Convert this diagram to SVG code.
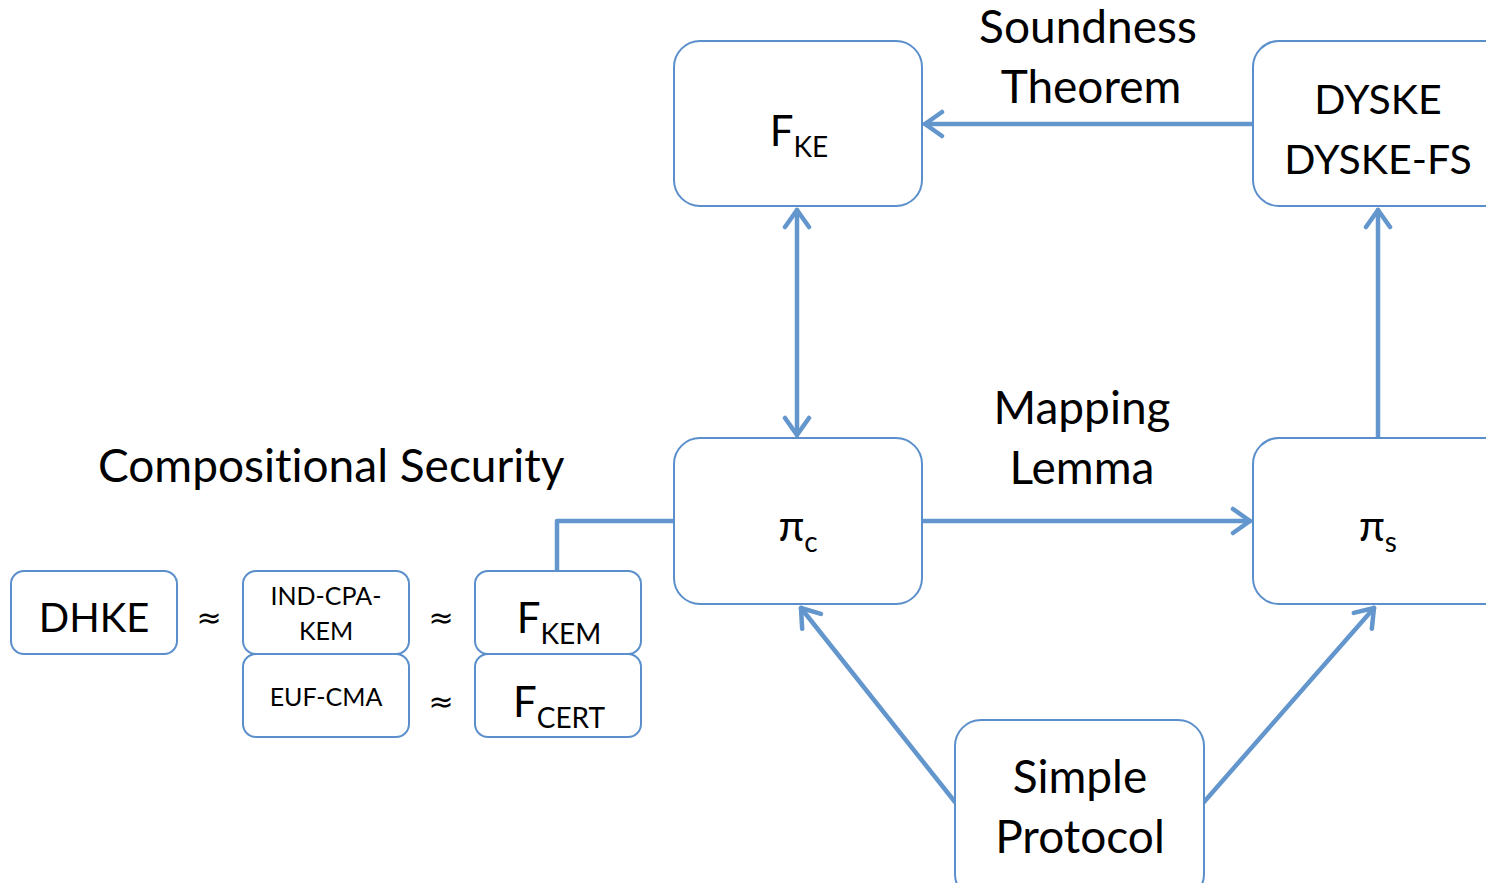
<svg xmlns="http://www.w3.org/2000/svg" width="1486" height="883" viewBox="0 0 1486 883">
<style>
.box{fill:#fff;stroke:#5b8fcb;stroke-width:2}
.t{font-family:Lato,"Liberation Sans",sans-serif;fill:#000;font-variant-ligatures:none;font-feature-settings:"liga" 0,"clig" 0,"dlig" 0,"calt" 0}
.big{font-size:42px}
.lbl{font-size:46px}
.sm{font-size:25px}
.ap{font-family:"DejaVu Sans",sans-serif;font-size:30px;fill:#000}
.con{fill:none;stroke:#6396cc;stroke-width:4.5;stroke-linecap:round;stroke-linejoin:round}
</style>
<defs>
<marker id="ah" markerUnits="userSpaceOnUse" markerWidth="40" markerHeight="40" viewBox="-20 -20 40 40" refX="0" refY="0" orient="auto-start-reverse">
<path d="M-17,-12 L0,0 L-17,12" fill="none" stroke="#6396cc" stroke-width="4.5" stroke-linecap="round" stroke-linejoin="round"/>
</marker>
</defs>
<rect width="1486" height="883" fill="#fff"/>
<g id="connectors">
<line class="con" x1="1253" y1="124" x2="925" y2="124" marker-end="url(#ah)"/>
<line class="con" x1="797" y1="210" x2="797" y2="435" marker-start="url(#ah)" marker-end="url(#ah)"/>
<line class="con" x1="922" y1="521" x2="1250" y2="521" marker-end="url(#ah)"/>
<line class="con" x1="1378" y1="438" x2="1378" y2="210" marker-end="url(#ah)"/>
<line class="con" x1="955" y1="802" x2="801" y2="608" marker-end="url(#ah)"/>
<line class="con" x1="1204" y1="802" x2="1374" y2="608" marker-end="url(#ah)"/>
<polyline class="con" points="557,571 557,521 674,521" style="stroke-linecap:butt"/>
</g>
<g id="label-soundness">
<text class="t lbl" x="1088" y="43" text-anchor="middle">Soundness</text>
<text class="t lbl" x="1091" y="103" text-anchor="middle">Theorem</text>
</g>
<g id="label-mapping">
<text class="t lbl" x="1082" y="424" text-anchor="middle">Mapping</text>
<text class="t lbl" x="1082" y="484" text-anchor="middle">Lemma</text>
</g>
<g id="label-compositional">
<text class="t lbl" x="98" y="482">Compositional Security</text>
</g>
<g id="node-fke">
<rect class="box" x="674" y="41" width="248" height="165" rx="26"/>
<text class="t big" x="799" y="146" text-anchor="middle">F<tspan font-size="28" dy="11">KE</tspan></text>
</g>
<g id="node-dyske">
<rect class="box" x="1253" y="41" width="260" height="165" rx="26"/>
<text class="t" font-size="41" x="1378" y="114" text-anchor="middle">DYSKE</text>
<text class="t" font-size="41" x="1378" y="174" text-anchor="middle">DYSKE-FS</text>
</g>
<g id="node-pic">
<rect class="box" x="674" y="438" width="248" height="166" rx="26"/>
<text class="t big" x="798" y="541" text-anchor="middle">π<tspan font-size="28" dy="11">c</tspan></text>
</g>
<g id="node-pis">
<rect class="box" x="1253" y="438" width="260" height="166" rx="26"/>
<text class="t big" x="1378" y="541" text-anchor="middle">π<tspan font-size="28" dy="11">s</tspan></text>
</g>
<g id="node-simple">
<rect class="box" x="955" y="720" width="249" height="180" rx="26"/>
<text class="t lbl" x="1080" y="793" text-anchor="middle">Simple</text>
<text class="t lbl" x="1080" y="853" text-anchor="middle">Protocol</text>
</g>
<g id="node-dhke">
<rect class="box" x="11" y="571" width="166" height="83" rx="13"/>
<text class="t" font-size="40" x="94" y="632" text-anchor="middle">DHKE</text>
</g>
<g id="node-indcpa">
<rect class="box" x="243" y="571" width="166" height="83" rx="13"/>
<text class="t sm" x="326" y="605" text-anchor="middle">IND-CPA-</text>
<text class="t sm" x="326" y="640" text-anchor="middle">KEM</text>
</g>
<g id="node-eufcma">
<rect class="box" x="243" y="654" width="166" height="83" rx="13"/>
<text class="t sm" x="326" y="706" text-anchor="middle">EUF-CMA</text>
</g>
<g id="node-fkem">
<rect class="box" x="475" y="571" width="166" height="83" rx="13"/>
<text class="t big" x="559" y="633" text-anchor="middle">F<tspan font-size="28" dy="11">KEM</tspan></text>
</g>
<g id="node-fcert">
<rect class="box" x="475" y="654" width="166" height="83" rx="13"/>
<text class="t big" x="559" y="717" text-anchor="middle">F<tspan font-size="28" dy="11">CERT</tspan></text>
</g>
<g id="approx">
<text class="ap" x="209" y="628" text-anchor="middle">≈</text>
<text class="ap" x="441" y="628" text-anchor="middle">≈</text>
<text class="ap" x="441" y="712" text-anchor="middle">≈</text>
</g>
</svg>
